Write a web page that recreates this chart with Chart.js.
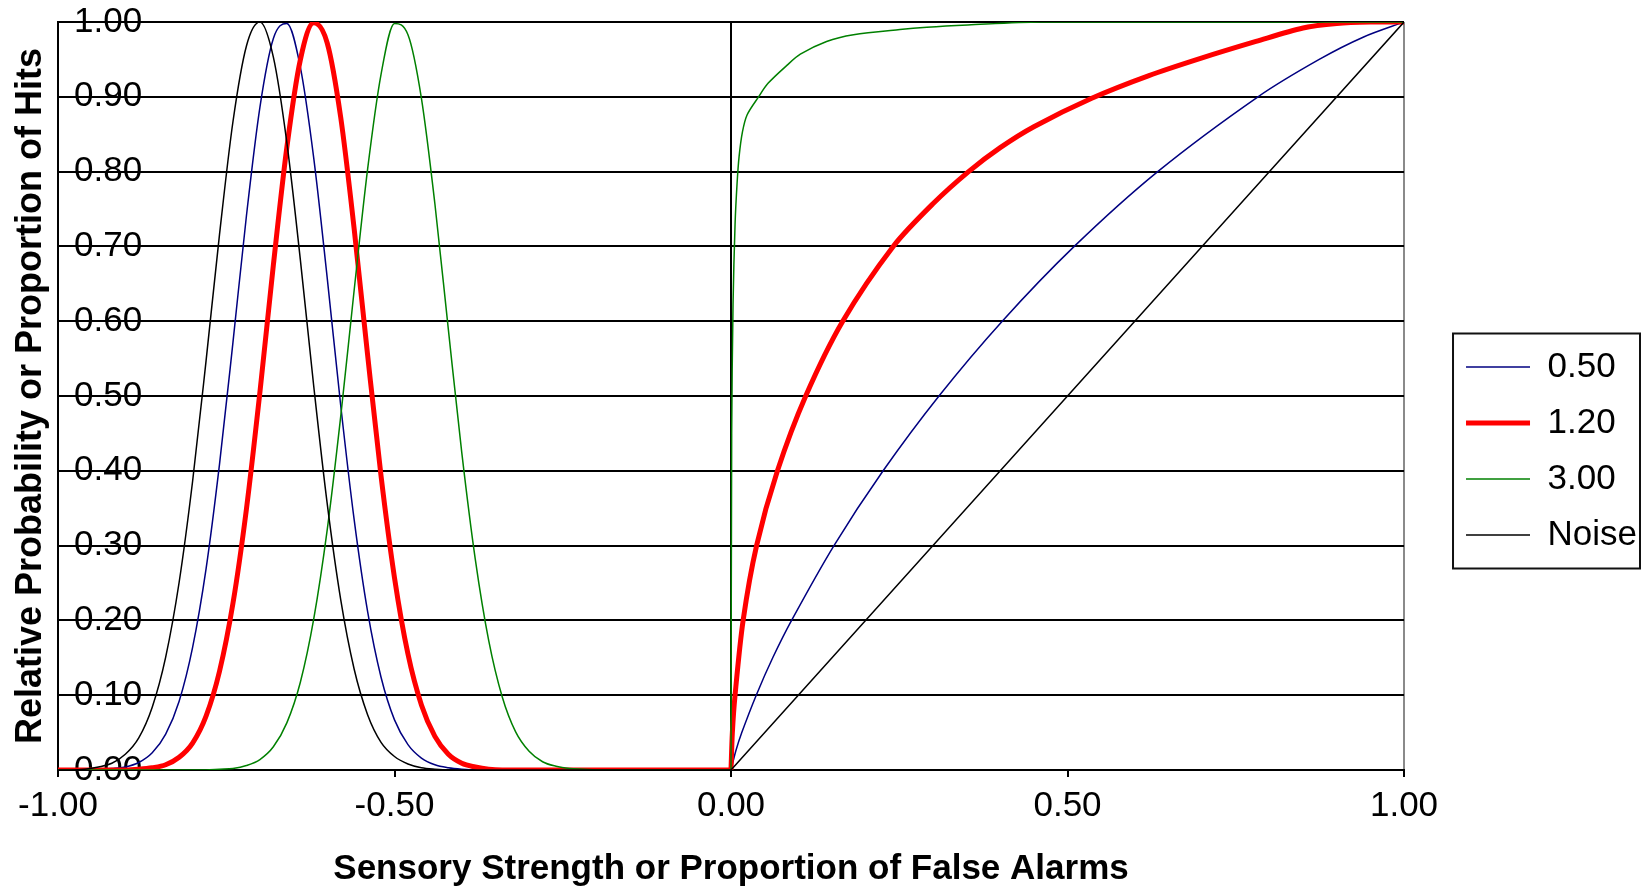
<!DOCTYPE html>
<html>
<head>
<meta charset="utf-8">
<script src="https://cdn.jsdelivr.net/npm/chart.js@4.4.1/dist/chart.umd.min.js"></script>
<style>
html,body{margin:0;padding:0;background:#fff;}
#wrap{width:1647px;height:886px;position:relative;}
</style>
</head>
<body>
<div id="wrap"><canvas id="c"></canvas></div>
<script>
// ---- Data ----
const seriesLabels = ['0.50', '1.20', '3.00', 'Noise'];
const xTickLabels = ['-1.00', '-0.50', '0.00', '0.50', '1.00'];
const xTitle = 'Sensory Strength or Proportion of False Alarms';
const yTitle = 'Relative Probability or Proportion of Hits';

// Left half: distributions along "sensory strength" (-1 .. 0)
const densX = [-1.00,-0.98,-0.96,-0.94,-0.92,-0.90,-0.88,-0.86,-0.84,-0.82,-0.80,-0.78,-0.76,-0.74,-0.72,-0.70,-0.68,-0.66,-0.64,-0.62,-0.60,-0.58,-0.56,-0.54,-0.52,-0.50,-0.48,-0.46,-0.44,-0.42,-0.40,-0.38,-0.36,-0.34,-0.32,-0.30,-0.28,-0.26,-0.24,-0.22,-0.20,-0.10,0.00];
const densNoise = [0,0,0.001,0.004,0.009,0.021,0.043,0.084,0.151,0.251,0.386,0.547,0.716,0.867,0.968,1.000,0.953,0.839,0.683,0.513,0.356,0.228,0.135,0.074,0.037,0.018,0.008,0.003,0.001,0,0,0,0,0,0,0,0,0,0,0,0,0,0];
const dens050   = [0,0,0,0.001,0.002,0.004,0.010,0.023,0.048,0.092,0.164,0.269,0.409,0.572,0.741,0.886,0.978,0.998,0.940,0.818,0.658,0.488,0.335,0.212,0.124,0.067,0.034,0.016,0.007,0.003,0.001,0,0,0,0,0,0,0,0,0,0,0,0];
const dens120   = [0,0,0,0,0,0,0.001,0.003,0.007,0.017,0.036,0.072,0.132,0.223,0.349,0.505,0.675,0.832,0.949,0.999,0.972,0.873,0.724,0.555,0.393,0.257,0.155,0.087,0.045,0.021,0.009,0.004,0.001,0,0,0,0,0,0,0,0,0,0];
const dens300   = [0,0,0,0,0,0,0,0,0,0,0,0,0.001,0.002,0.006,0.014,0.031,0.063,0.117,0.202,0.321,0.472,0.641,0.803,0.930,0.998,0.983,0.898,0.757,0.589,0.424,0.282,0.173,0.098,0.051,0.025,0.011,0.005,0.002,0.001,0,0,0];

// Right half: ROC curves (proportion of false alarms -> proportion of hits)
const rocNoiseF = [0, 0.25, 0.50, 0.75, 1.00];
const rocNoiseH = [0, 0.25, 0.50, 0.75, 1.00];
const roc050F = [0, 0.007, 0.016, 0.0375, 0.062, 0.090, 0.153, 0.226, 0.309, 0.403, 0.510, 0.634, 0.783, 0.874, 0.940, 1.00];
const roc050H = [0, 0.025, 0.050, 0.100, 0.150, 0.200, 0.300, 0.400, 0.500, 0.600, 0.700, 0.800, 0.900, 0.950, 0.980, 1.00];
const roc120F = [0, 0.002, 0.006, 0.018, 0.038, 0.069, 0.111, 0.166, 0.241, 0.300, 0.353, 0.400, 0.450, 0.536, 0.620, 0.700, 0.780, 0.850, 0.900, 0.950, 1.00];
const roc120H = [0, 0.050, 0.100, 0.200, 0.300, 0.400, 0.500, 0.600, 0.700, 0.757, 0.800, 0.832, 0.860, 0.898, 0.928, 0.952, 0.974, 0.992, 0.998, 1.000, 1.00];
const roc300F = [0, 0.001, 0.003, 0.006, 0.009, 0.012, 0.017, 0.024, 0.041, 0.055, 0.083, 0.103, 0.142, 0.182, 0.251, 0.291, 0.352, 0.460, 1.00];
const roc300H = [0, 0.450, 0.622, 0.729, 0.784, 0.820, 0.853, 0.876, 0.900, 0.918, 0.942, 0.957, 0.974, 0.983, 0.990, 0.993, 0.996, 1.000, 1.00];

// ---- Build points ----
const pts = (xs, ys) => xs.map((x, i) => ({x: x, y: ys[i]}));

const FONT = "'Liberation Sans', Arial, Helvetica, sans-serif";

const legendBorder = {
  id: 'legendBorder',
  afterDraw(chart) {
    const lg = chart.legend;
    if (!lg || !lg.legendHitBoxes || !lg.legendHitBoxes.length) return;
    const hb = lg.legendHitBoxes;
    const first = hb[0], last = hb[hb.length - 1];
    const l = first.left - 13;
    const r = Math.min(chart.width - 5, Math.max(...hb.map(h => h.left + h.width)) + 3);
    const t = first.top - 16;
    const b = last.top + last.height + 16;
    const ctx = chart.ctx;
    ctx.save();
    ctx.strokeStyle = '#111';
    ctx.lineWidth = 2;
    ctx.strokeRect(l, t, r - l, b - t);
    ctx.restore();
  }
};

const ds = (label, data, color, width, order, mode, tension) => ({
  label: label, data: data, borderColor: color, backgroundColor: color,
  borderWidth: width, pointRadius: 0, pointHoverRadius: 0, showLine: true,
  fill: false, cubicInterpolationMode: mode, tension: tension, order: order
});

new Chart(document.getElementById('c'), {
  type: 'scatter',
  data: {
    datasets: [
      ds(seriesLabels[0], pts(densX, dens050), '#000080', 1.5, 8, 'monotone', 0),
      ds(seriesLabels[1], pts(densX, dens120), '#FF0000', 5, 6, 'monotone', 0),
      ds(seriesLabels[2], pts(densX, dens300), '#008000', 1.5, 4, 'monotone', 0),
      ds(seriesLabels[3], pts(densX, densNoise), '#000000', 1.5, 2, 'monotone', 0),
      ds(seriesLabels[0], pts(roc050F, roc050H), '#000080', 1.5, 7, 'default', 0.3),
      ds(seriesLabels[1], pts(roc120F, roc120H), '#FF0000', 5, 5, 'default', 0.3),
      ds(seriesLabels[2], pts(roc300F, roc300H), '#008000', 1.5, 3, 'default', 0.3),
      ds(seriesLabels[3], pts(rocNoiseF, rocNoiseH), '#000000', 1.5, 1, 'default', 0)
    ]
  },
  options: {
    responsive: true,
    maintainAspectRatio: false,
    animation: false,
    layout: { padding: { top: 16, right: 0, bottom: 0, left: 0 } },
    plugins: {
      tooltip: { enabled: false },
      legend: {
        position: 'right',
        labels: {
          usePointStyle: true,
          pointStyle: 'line',
          pointStyleWidth: 64,
          padding: 21,
          color: '#000',
          font: { family: FONT, size: 35 },
          filter: (item) => item.datasetIndex < 4,
          sort: (a, b) => a.datasetIndex - b.datasetIndex
        }
      }
    },
    scales: {
      x: {
        type: 'linear',
        min: -1, max: 1,
        afterFit: (s) => { s.height = 116; },
        afterBuildTicks: (s) => { s.ticks = xTickLabels.map(t => ({value: parseFloat(t)})); },
        ticks: {
          callback: (v) => xTickLabels[Math.round((v + 1) * 2)],
          color: '#000',
          font: { family: FONT, size: 35 },
          padding: 8,
          maxRotation: 0,
          autoSkip: false
        },
        grid: {
          color: (c) => c.tick && c.tick.value === 0 ? '#000' : (c.tick && c.tick.value === 1 ? '#8a8a8a' : 'rgba(0,0,0,0)'),
          lineWidth: 2,
          drawTicks: true,
          tickLength: 7,
          tickColor: '#000',
          tickWidth: 2
        },
        border: { display: true, color: '#000', width: 2 },
        title: {
          display: true, text: xTitle, color: '#000',
          font: { family: FONT, size: 35, weight: 'bold', lineHeight: 1 },
          padding: { top: 0, bottom: -1 }
        }
      },
      y: {
        type: 'linear',
        min: 0, max: 1,
        afterFit: (s) => { s.width = 58; },
        ticks: {
          stepSize: 0.1,
          mirror: true,
          crossAlign: 'far',
          padding: 16,
          color: '#000',
          font: { family: FONT, size: 35, lineHeight: 0.343 },
          callback: (v) => v.toFixed(2)
        },
        grid: { color: '#000', lineWidth: 2, drawTicks: false },
        border: { display: true, color: '#000', width: 2 },
        title: {
          display: true, text: yTitle, color: '#000',
          font: { family: FONT, size: 36, weight: 'bold', lineHeight: 1 },
          padding: { top: 13, bottom: 0 }
        }
      },
      pad: {
        type: 'linear', position: 'right', display: true,
        afterFit: (s) => { s.width = 41; },
        ticks: { display: false },
        grid: { display: false },
        border: { display: false }
      }
    }
  },
  plugins: [legendBorder]
});
</script>
</body>
</html>
